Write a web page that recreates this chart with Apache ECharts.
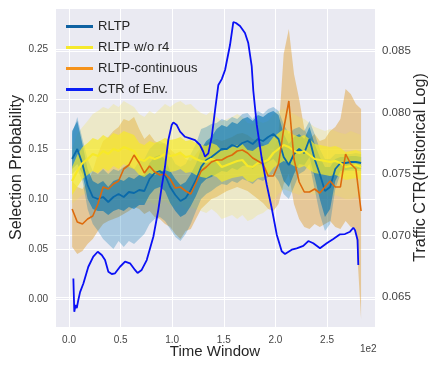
<!DOCTYPE html>
<html>
<head>
<meta charset="utf-8">
<script src="https://cdn.jsdelivr.net/npm/echarts@6/dist/echarts.min.js"></script>
<style>
html, body { margin: 0; padding: 0; background: #fff; }
#chart { width: 440px; height: 369px; }
</style>
</head>
<body>
<div id="chart"></div>
<script>
// time windows (raw units, axis shows them /100 with a 1e2 offset)
var winX = [3, 8, 13, 18, 23, 28, 33, 38, 43, 48, 53, 58, 63, 68, 73, 78, 83, 88, 93, 98,
    103, 108, 113, 118, 123, 128, 133, 138, 143, 148, 153, 158, 163, 168, 173, 178, 183, 188, 193, 198,
    203, 208, 213, 218, 223, 228, 233, 238, 243, 248, 253, 258, 263, 268, 273, 278, 283];

// RLTP: line, outer band, inner band
var rltp = [0.140, 0.150, 0.135, 0.114, 0.102, 0.100, 0.102, 0.097, 0.102, 0.105,
    0.102, 0.107, 0.106, 0.109, 0.108, 0.120, 0.126, 0.128, 0.124, 0.112,
    0.104, 0.098, 0.101, 0.109, 0.119, 0.132, 0.139, 0.142, 0.146, 0.150,
    0.150, 0.154, 0.152, 0.156, 0.158, 0.155, 0.160, 0.158, 0.162, 0.165,
    0.160, 0.142, 0.134, 0.145, 0.150, 0.146, 0.160, 0.140, 0.125, 0.108,
    0.112, 0.130, 0.136, 0.136, 0.137, 0.137, 0.136];
var rltpLo = [0.125, 0.130, 0.118, 0.090, 0.075, 0.068, 0.060, 0.055, 0.050, 0.058,
    0.052, 0.058, 0.055, 0.060, 0.065, 0.075, 0.080, 0.082, 0.078, 0.070,
    0.062, 0.058, 0.065, 0.075, 0.088, 0.100, 0.105, 0.108, 0.112, 0.115,
    0.114, 0.118, 0.116, 0.120, 0.118, 0.115, 0.120, 0.118, 0.122, 0.125,
    0.118, 0.105, 0.100, 0.112, 0.125, 0.128, 0.135, 0.110, 0.085, 0.068,
    0.075, 0.110, 0.125, 0.128, 0.128, 0.128, 0.128];
var rltpHi = [0.165, 0.182, 0.160, 0.140, 0.128, 0.125, 0.130, 0.125, 0.130, 0.128,
    0.132, 0.135, 0.130, 0.138, 0.140, 0.150, 0.155, 0.158, 0.155, 0.145,
    0.135, 0.132, 0.135, 0.145, 0.155, 0.170, 0.172, 0.175, 0.176, 0.180,
    0.178, 0.182, 0.180, 0.185, 0.186, 0.180, 0.188, 0.185, 0.190, 0.192,
    0.188, 0.175, 0.165, 0.170, 0.172, 0.168, 0.178, 0.165, 0.150, 0.140,
    0.140, 0.145, 0.145, 0.145, 0.145, 0.146, 0.145];
var rltpInLo = [0.130, 0.135, 0.125, 0.100, 0.090, 0.088, 0.088, 0.084, 0.088, 0.090,
    0.088, 0.092, 0.090, 0.094, 0.094, 0.104, 0.110, 0.112, 0.108, 0.096,
    0.088, 0.082, 0.085, 0.093, 0.103, 0.115, 0.120, 0.122, 0.125, 0.128,
    0.127, 0.131, 0.129, 0.133, 0.134, 0.130, 0.135, 0.133, 0.137, 0.140,
    0.134, 0.118, 0.112, 0.125, 0.135, 0.134, 0.142, 0.122, 0.100, 0.082,
    0.090, 0.118, 0.128, 0.129, 0.130, 0.130, 0.130];
var rltpInHi = [0.168, 0.178, 0.155, 0.130, 0.118, 0.115, 0.118, 0.112, 0.118, 0.120,
    0.118, 0.122, 0.120, 0.124, 0.124, 0.136, 0.142, 0.144, 0.140, 0.128,
    0.120, 0.114, 0.117, 0.125, 0.135, 0.150, 0.158, 0.162, 0.170, 0.174,
    0.172, 0.177, 0.175, 0.180, 0.182, 0.178, 0.184, 0.182, 0.186, 0.188,
    0.184, 0.165, 0.155, 0.162, 0.165, 0.160, 0.172, 0.155, 0.142, 0.132,
    0.132, 0.140, 0.142, 0.142, 0.143, 0.143, 0.142];

// RLTP w/o r4
var woR4 = [0.118, 0.128, 0.136, 0.140, 0.145, 0.143, 0.148, 0.145, 0.150, 0.148,
    0.152, 0.150, 0.148, 0.140, 0.138, 0.142, 0.140, 0.142, 0.145, 0.143,
    0.144, 0.146, 0.142, 0.143, 0.140, 0.138, 0.137, 0.140, 0.138, 0.132,
    0.134, 0.136, 0.138, 0.139, 0.133, 0.132, 0.136, 0.137, 0.139, 0.146,
    0.150, 0.154, 0.152, 0.148, 0.146, 0.148, 0.144, 0.140, 0.139, 0.138,
    0.137, 0.138, 0.136, 0.132, 0.133, 0.134, 0.132];
var woR4Lo = [0.095, 0.100, 0.104, 0.106, 0.108, 0.105, 0.108, 0.104, 0.108, 0.105,
    0.110, 0.106, 0.104, 0.098, 0.095, 0.098, 0.094, 0.096, 0.098, 0.094,
    0.092, 0.095, 0.090, 0.092, 0.090, 0.088, 0.086, 0.090, 0.086, 0.080,
    0.082, 0.084, 0.080, 0.084, 0.078, 0.080, 0.084, 0.086, 0.090, 0.098,
    0.105, 0.110, 0.108, 0.106, 0.104, 0.108, 0.106, 0.104, 0.105, 0.104,
    0.102, 0.104, 0.102, 0.100, 0.100, 0.102, 0.100];
var woR4Hi = [0.150, 0.165, 0.172, 0.178, 0.185, 0.188, 0.192, 0.190, 0.195, 0.192,
    0.198, 0.195, 0.192, 0.185, 0.182, 0.188, 0.185, 0.190, 0.195, 0.192,
    0.196, 0.198, 0.194, 0.195, 0.190, 0.186, 0.184, 0.188, 0.182, 0.178,
    0.180, 0.182, 0.185, 0.182, 0.176, 0.175, 0.178, 0.176, 0.178, 0.185,
    0.188, 0.190, 0.188, 0.185, 0.182, 0.180, 0.176, 0.172, 0.170, 0.168,
    0.170, 0.168, 0.166, 0.165, 0.168, 0.166, 0.164];
var woR4InLo = [0.104, 0.112, 0.120, 0.124, 0.128, 0.126, 0.131, 0.128, 0.133, 0.130,
    0.135, 0.132, 0.130, 0.124, 0.122, 0.126, 0.124, 0.127, 0.129, 0.127,
    0.128, 0.130, 0.126, 0.127, 0.124, 0.122, 0.121, 0.124, 0.122, 0.117,
    0.119, 0.121, 0.122, 0.123, 0.118, 0.117, 0.121, 0.122, 0.124, 0.131,
    0.135, 0.138, 0.136, 0.133, 0.131, 0.133, 0.129, 0.126, 0.125, 0.124,
    0.123, 0.124, 0.122, 0.119, 0.120, 0.121, 0.119];
var woR4InHi = [0.132, 0.144, 0.152, 0.156, 0.161, 0.159, 0.164, 0.161, 0.166, 0.164,
    0.168, 0.166, 0.164, 0.156, 0.154, 0.158, 0.156, 0.158, 0.161, 0.159,
    0.160, 0.162, 0.158, 0.159, 0.156, 0.154, 0.153, 0.156, 0.154, 0.148,
    0.150, 0.152, 0.154, 0.155, 0.149, 0.148, 0.152, 0.153, 0.155, 0.162,
    0.166, 0.170, 0.168, 0.164, 0.162, 0.164, 0.160, 0.155, 0.154, 0.153,
    0.152, 0.153, 0.151, 0.147, 0.148, 0.149, 0.147];

// RLTP-continuous
var cont = [0.090, 0.077, 0.075, 0.080, 0.083, 0.095, 0.112, 0.110, 0.115, 0.118,
    0.130, 0.134, 0.144, 0.136, 0.126, 0.133, 0.127, 0.124, 0.125, 0.120,
    0.111, 0.112, 0.108, 0.105, 0.116, 0.128, 0.132, 0.137, 0.139, 0.139,
    0.142, 0.144, 0.148, 0.149, 0.146, 0.141, 0.138, 0.135, 0.123, 0.123,
    0.135, 0.170, 0.198, 0.140, 0.117, 0.107, 0.107, 0.110, 0.106, 0.112,
    0.118, 0.112, 0.112, 0.145, 0.135, 0.130, 0.088];
var contLo = [0.052, 0.045, 0.048, 0.055, 0.060, 0.068, 0.075, 0.078, 0.080, 0.082,
    0.085, 0.088, 0.092, 0.090, 0.085, 0.088, 0.082, 0.080, 0.075, 0.072,
    0.065, 0.060, 0.068, 0.070, 0.080, 0.090, 0.095, 0.100, 0.102, 0.105,
    0.108, 0.110, 0.112, 0.110, 0.108, 0.104, 0.100, 0.096, 0.090, 0.088,
    0.095, 0.115, 0.125, 0.095, 0.080, 0.072, 0.070, 0.075, 0.072, 0.075,
    0.078, 0.072, 0.070, 0.078, 0.072, 0.070, -0.020];
var contHi = [0.118, 0.112, 0.110, 0.118, 0.128, 0.145, 0.158, 0.162, 0.168, 0.172,
    0.180, 0.178, 0.182, 0.170, 0.160, 0.165, 0.158, 0.155, 0.156, 0.150,
    0.145, 0.148, 0.140, 0.138, 0.145, 0.152, 0.156, 0.158, 0.160, 0.158,
    0.160, 0.162, 0.165, 0.166, 0.164, 0.160, 0.158, 0.155, 0.150, 0.148,
    0.165, 0.245, 0.270, 0.225, 0.200, 0.170, 0.160, 0.165, 0.158, 0.160,
    0.168, 0.172, 0.180, 0.210, 0.205, 0.195, 0.190];

// CTR of Env. (right axis)
var ctrX = [4.2, 5.1, 6.3, 7.5, 9.0, 10.7, 13.9, 18.7, 23.5, 27.8, 31.7, 34.9, 38.1, 41.4, 44.6,
    49.4, 54.3, 59.1, 63.9, 66.4, 70.4, 75.3, 81.7, 86.5, 89.8, 93.0, 96.2, 99.5, 101.1, 104.4,
    107.6, 112.4, 117.2, 122.1, 126.9, 130.1, 131.8, 135.0, 138.3, 141.5, 144.7, 148.0, 151.2, 156.0,
    159.2, 161.8, 165.7, 170.5, 173.7, 177.0, 178.6, 181.9, 186.7, 191.6, 196.4, 201.3, 206.1, 209.3,
    215.8, 220.6, 227.0, 231.9, 236.7, 243.2, 249.7, 256.1, 262.6, 267.4, 272.3, 275.5, 277.1, 278.8,
    279.6, 280.3];
var ctrVal = [0.0665, 0.0638, 0.06435, 0.0641, 0.06476, 0.0654, 0.0661, 0.06746, 0.06828, 0.06868,
    0.06841, 0.06801, 0.06706, 0.06687, 0.06693, 0.06746, 0.06787, 0.06774, 0.0672, 0.06695,
    0.0672, 0.068, 0.0699, 0.07207, 0.07397, 0.07559, 0.07776, 0.07898, 0.0792, 0.07898,
    0.07844, 0.07803, 0.0779, 0.07776, 0.07736, 0.07681, 0.07641, 0.07668, 0.07803, 0.0802,
    0.08224, 0.08272, 0.08346, 0.08549, 0.08736, 0.08728, 0.08703, 0.08646, 0.08565, 0.08378,
    0.08175, 0.07901, 0.0763, 0.07413, 0.07224, 0.07007, 0.06872, 0.0685, 0.06885, 0.06896,
    0.06915, 0.06955, 0.06937, 0.06896, 0.06937, 0.06972, 0.0701, 0.07012, 0.07031, 0.07063,
    0.07045, 0.07059, 0.06963, 0.0676];

var names = ['RLTP', 'RLTP w/o r4', 'RLTP-continuous', 'CTR of Env.'];

var font = 'Liberation Sans, Arial, sans-serif';

function pairs(xs, ys) {
    return xs.map(function (x, i) { return [x, ys[i]]; });
}

// shaded band between lo and hi, one polygon placed through the axis scales
function band(name, lo, hi, color, opacity) {
    return {
        name: name,
        type: 'custom',
        clip: true,
        silent: true,
        data: winX.map(function (x, i) { return [x, lo[i], hi[i]]; }),
        encode: { x: 0, y: [1, 2] },
        renderItem: function (params, api) {
            if (params.dataIndex !== 0) return;
            var pts = [];
            for (var i = 0; i < winX.length; i++) pts.push(api.coord([winX[i], lo[i]]));
            for (var j = winX.length - 1; j >= 0; j--) pts.push(api.coord([winX[j], hi[j]]));
            return {
                type: 'polygon',
                shape: { points: pts },
                style: { fill: color, opacity: opacity }
            };
        },
        z: 1
    };
}

function line(name, ys, color, width) {
    return {
        name: name,
        type: 'line',
        data: pairs(winX, ys),
        showSymbol: false,
        symbol: 'none',
        lineStyle: { color: color, width: width },
        itemStyle: { color: color },
        z: 3
    };
}

var chart = echarts.init(document.getElementById('chart'), null, { renderer: 'canvas' });

chart.setOption({
    backgroundColor: '#ffffff',
    animation: false,
    textStyle: { fontFamily: font },
    grid: {
        left: 55, right: 65, top: 8, bottom: 42,
        outerBoundsMode: 'none',
        containLabel: false,
        show: true,
        backgroundColor: '#EAEAF2',
        borderWidth: 0
    },
    legend: {
        orient: 'vertical',
        left: 61,
        top: 14,
        itemWidth: 27,
        itemHeight: 3,
        itemGap: 6,
        icon: 'rect',
        textStyle: { fontSize: 13, color: '#262626', lineHeight: 15, fontFamily: font },
        data: [
            { name: names[0], itemStyle: { color: '#0F62A2' } },
            { name: names[1], itemStyle: { color: '#F5E92C' } },
            { name: names[2], itemStyle: { color: '#F5921B' } },
            { name: names[3], itemStyle: { color: '#0A1EF5' } }
        ]
    },
    xAxis: {
        type: 'value',
        min: -13.6,
        max: 296.5,
        splitNumber: 6,
        name: 'Time Window',
        nameLocation: 'middle',
        nameGap: 17,
        nameMoveOverlap: false,
        nameTextStyle: { fontSize: 15, color: '#262626' },
        axisLine: { show: false },
        axisTick: { show: false },
        axisLabel: {
            fontSize: 10, color: '#444', margin: 8,
            showMinLabel: false, showMaxLabel: false,
            formatter: function (v) { return (v / 100).toFixed(1); }
        },
        splitLine: { show: true, lineStyle: { color: '#ffffff', width: 1 } }
    },
    yAxis: [{
        type: 'value',
        min: -0.028,
        max: 0.291,
        splitNumber: 6,
        name: 'Selection Probability',
        nameLocation: 'middle',
        nameGap: 30,
        nameMoveOverlap: false,
        nameTextStyle: { fontSize: 16, color: '#262626' },
        axisLine: { show: false },
        axisTick: { show: false },
        axisLabel: {
            fontSize: 10, color: '#444', margin: 7,
            showMinLabel: false, showMaxLabel: false,
            formatter: function (v) { return v.toFixed(2); }
        },
        splitLine: { show: true, lineStyle: { color: '#ffffff', width: 1 } }
    }, {
        type: 'value',
        position: 'right',
        min: 0.06256,
        max: 0.0885,
        splitNumber: 5,
        name: 'Traffic CTR(Historical Log)',
        nameLocation: 'middle',
        nameGap: 38,
        nameRotate: 90,
        nameMoveOverlap: false,
        nameTextStyle: { fontSize: 16, color: '#262626' },
        axisLine: { show: false },
        axisTick: { show: false },
        axisLabel: {
            fontSize: 11.5, color: '#444', margin: 7,
            showMinLabel: false, showMaxLabel: false,
            formatter: function (v) { return v.toFixed(3); }
        },
        splitLine: { show: true, lineStyle: { color: '#ffffff', width: 1 } }
    }],
    graphic: [{
        type: 'text',
        left: 360,
        top: 344,
        style: { text: '1e2', fontSize: 10, fill: '#444', fontFamily: font }
    }],
    series: [
        band('RLTP-continuous band', contLo, contHi, '#DE8F05', 0.38),
        band('RLTP w/o r4 band', woR4Lo, woR4Hi, '#F3E24A', 0.25),
        band('RLTP band', rltpLo, rltpHi, '#0173B2', 0.28),
        band('RLTP band in', rltpInLo, rltpInHi, '#0173B2', 0.6),
        band('RLTP w/o r4 band in', woR4InLo, woR4InHi, '#F7E928', 0.7),
        line(names[0], rltp, '#0A6AAA', 1.8),
        line(names[1], woR4, '#F7E928', 2.2),
        line(names[2], cont, '#DD6A0C', 1.6),
        {
            name: names[3],
            type: 'line',
            yAxisIndex: 1,
            data: pairs(ctrX, ctrVal),
            showSymbol: false,
            symbol: 'none',
            lineStyle: { color: '#0A10F5', width: 1.8 },
            itemStyle: { color: '#0A10F5' },
            z: 4
        }
    ]
});
</script>
</body>
</html>
